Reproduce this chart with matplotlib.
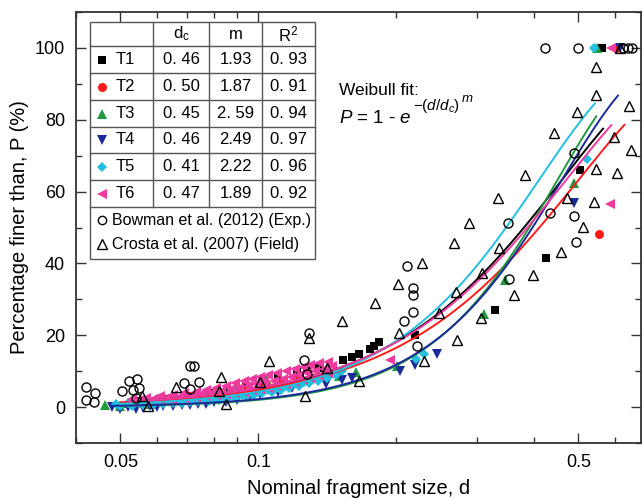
import matplotlib
matplotlib.use("Agg")
import matplotlib.pyplot as plt
import numpy as np
from matplotlib.ticker import FixedLocator, FixedFormatter, NullFormatter
from matplotlib.patches import Rectangle

plt.rcParams["font.family"] = ["Liberation Sans", "DejaVu Sans"]
plt.rcParams["mathtext.fontset"] = "custom"
plt.rcParams["mathtext.rm"] = "Liberation Sans"
plt.rcParams["mathtext.it"] = "Liberation Sans:italic"

# ---- data ----
names = ["T1", "T2", "T3", "T4", "T5", "T6"]
dc = [0.46, 0.50, 0.45, 0.46, 0.41, 0.47]
m_exp = [1.93, 1.87, 2.59, 2.49, 2.22, 1.89]
r2 = [0.93, 0.91, 0.94, 0.97, 0.96, 0.92]
dc_text = ["0. 46", "0. 50", "0. 45", "0. 46", "0. 41", "0. 47"]
m_text = ["1.93", "1.87", "2. 59", "2.49", "2.22", "1.89"]
r2_text = ["0. 93", "0. 91", "0. 94", "0. 97", "0. 96", "0. 92"]
fit_start = [0.053, 0.050, 0.050, 0.048, 0.050, 0.052]
fit_end = [0.566, 0.630, 0.547, 0.610, 0.543, 0.590]

t1_d = [0.055, 0.062, 0.070, 0.078, 0.086, 0.094, 0.102, 0.1106, 0.1216, 0.1279,
        0.1359, 0.1531, 0.1604, 0.1656, 0.1752, 0.1785, 0.1833, 0.2202, 0.3292,
        0.4255, 0.5047, 0.5628]
t1_p = [1.6, 2.2, 3.0, 3.8, 4.6, 5.6, 6.8, 8.3, 10.1, 10.7,
        11.0, 13.1, 14.0, 14.8, 16.1, 16.9, 18.1, 20.2, 26.9,
        41.6, 66.1, 100]
t2_d = [0.057, 0.064, 0.071, 0.079, 0.087, 0.095, 0.104, 0.113, 0.122, 0.5534, 0.603]
t2_p = [1.8, 2.4, 3.0, 3.7, 4.5, 5.3, 6.3, 7.4, 8.4, 48.1, 100]
t3_d = [0.0462, 0.050, 0.052, 0.056, 0.058, 0.060, 0.064, 0.068, 0.073, 0.078,
        0.084, 0.090, 0.096, 0.1039, 0.110, 0.1499, 0.1637, 0.2008, 0.3114, 0.345,
        0.488, 0.550]
t3_p = [0.6, 0.2, 1.0, 1.6, 0.8, 2.2, 2.0, 2.8, 3.0, 3.6,
        4.4, 5.0, 6.0, 7.7, 7.0, 8.6, 9.8, 11.3, 25.8, 35.4,
        62.4, 100]
t4_d = [0.048, 0.050, 0.052, 0.054, 0.056, 0.058, 0.060, 0.062, 0.065, 0.068,
        0.071, 0.074, 0.077, 0.080, 0.085, 0.090, 0.0957, 0.101, 0.1102, 0.1184,
        0.1404, 0.1525, 0.1602, 0.2035, 0.2197, 0.2456, 0.488, 0.617]
t4_p = [0.0, -0.5, 0.1, -0.4, -0.2, 0.3, -0.1, 0.4, 0.2, 0.6,
        0.5, 0.9, 0.8, 1.3, 1.3, 2.0, 3.1, 3.6, 4.25, 5.2,
        6.5, 7.6, 8.2, 10.0, 11.75, 14.8, 56.7, 100]
t5_d = [0.049, 0.052, 0.055, 0.058, 0.061, 0.064, 0.067, 0.070, 0.073, 0.076,
        0.080, 0.084, 0.088, 0.092, 0.096, 0.100, 0.105, 0.110, 0.115, 0.120,
        0.126, 0.132, 0.138, 0.145, 0.152,
        0.050, 0.053, 0.056, 0.059, 0.062, 0.065, 0.068, 0.071, 0.074, 0.078,
        0.082, 0.086, 0.090, 0.094, 0.098, 0.102, 0.107, 0.112, 0.117, 0.123,
        0.129, 0.135, 0.141, 0.148, 0.2213, 0.2296, 0.522, 0.540]
t5_p = [0.9, 1.0, 1.15, 1.3, 1.45, 1.6, 1.8, 2.0, 2.15, 2.35,
        2.6, 2.9, 3.2, 3.5, 3.9, 4.25, 4.75, 5.25, 5.8, 6.3,
        7.0, 7.7, 8.4, 9.2, 10.0,
        0.2, 0.4, 0.5, 0.7, 0.8, 1.0, 1.2, 1.4, 1.6, 1.8,
        2.1, 2.4, 2.7, 3.0, 3.4, 3.8, 4.3, 4.8, 5.3, 5.9,
        6.6, 7.3, 8.0, 8.8, 13.3, 14.9, 69.2, 100]
t6_d = [0.053, 0.057, 0.061, 0.065, 0.069, 0.073, 0.077, 0.081, 0.085, 0.089,
        0.093, 0.097, 0.101, 0.105, 0.110, 0.115, 0.120, 0.125, 0.130, 0.136, 0.142,
        0.055, 0.059, 0.063, 0.067, 0.071, 0.075, 0.079, 0.083, 0.087, 0.091,
        0.095, 0.099, 0.103, 0.108, 0.113, 0.118, 0.123, 0.128, 0.133, 0.139,
        0.053, 0.057, 0.061, 0.065, 0.069, 0.073, 0.077, 0.081, 0.085, 0.089,
        0.093, 0.097, 0.101, 0.105, 0.110, 0.115, 0.120, 0.125, 0.130, 0.136, 0.142,
        0.1449, 0.1935, 0.587, 0.590]
t6_p = [2.2, 2.6, 3.0, 3.4, 3.8, 4.3, 4.8, 5.4, 6.0, 6.6,
        7.2, 7.8, 8.4, 8.9, 9.5, 10.1, 10.7, 11.2, 11.7, 12.2, 12.6,
        1.9, 2.2, 2.5, 2.9, 3.2, 3.6, 4.0, 4.5, 5.0, 5.4,
        5.9, 6.4, 6.9, 7.3, 7.9, 8.5, 9.0, 9.6, 10.1, 10.7,
        1.4, 1.6, 1.9, 2.1, 2.4, 2.7, 3.0, 3.3, 3.6, 4.0,
        4.3, 4.7, 5.0, 5.4, 5.9, 6.4, 6.9, 7.5, 8.0, 8.7, 9.4,
        11.5, 13.1, 56.6, 100]
series_d = [t1_d, t2_d, t3_d, t4_d, t5_d, t6_d]
series_p = [t1_p, t2_p, t3_p, t4_p, t5_p, t6_p]

bowman_d = [0.0421, 0.0439, 0.0421, 0.0437, 0.0505, 0.0521, 0.0543, 0.0533, 0.0548,
            0.0540, 0.0689, 0.0709, 0.0724, 0.0711, 0.0744, 0.1292, 0.1256, 0.1277,
            0.2115, 0.2177, 0.2173, 0.2177, 0.2076, 0.2224, 0.3506, 0.3523, 0.4326,
            0.4897, 0.490, 0.494, 0.4232, 0.500, 0.627, 0.643, 0.655]
bowman_p = [5.5, 4.0, 2.1, 1.4, 4.4, 7.3, 7.7, 4.7, 5.4,
            2.4, 6.75, 11.5, 11.5, 4.9, 7.1, 20.6, 13.1, 9.2,
            39.4, 33.1, 31.1, 26.5, 23.9, 16.9, 51.3, 35.75, 54.0,
            70.7, 53.1, 46.0, 100, 100, 100, 100, 100]
crosta_d = [0.0557, 0.0574, 0.0660, 0.0830, 0.0822, 0.0849, 0.1010, 0.1053, 0.1289,
            0.1266, 0.1413, 0.1523, 0.1660, 0.1794, 0.2019, 0.2032, 0.2278, 0.2296,
            0.2476, 0.2669, 0.2710, 0.2706, 0.2888, 0.3060, 0.3078, 0.3334, 0.3356,
            0.3610, 0.3828, 0.3980, 0.4413, 0.4582, 0.4728, 0.4955, 0.5116, 0.5398,
            0.5456, 0.5467, 0.5470, 0.5969, 0.6075, 0.6171, 0.6435, 0.6504]
crosta_p = [3.2, 0.4, 5.5, 8.3, 4.6, 0.8, 7.0, 12.9, 19.1,
            3.2, 11.0, 24.0, 7.4, 29.1, 34.25, 20.6, 40.1, 12.8,
            26.2, 45.6, 18.8, 32.1, 51.3, 24.9, 37.4, 58.1, 44.2,
            31.1, 64.7, 36.9, 76.3, 43.1, 58.3, 82.2, 50.1, 57.1,
            66.3, 86.9, 94.6, 75.2, 65.3, 100, 83.9, 71.6]

x_major = [0.05, 0.1, 0.5]
x_major_labels = ["0.05", "0.1", "0.5"]
x_minor = [0.04, 0.06, 0.07, 0.08, 0.09, 0.2, 0.3, 0.4, 0.6, 0.7]

# ---- styles ----
colors = ["#000000", "#ff1a1a", "#1f9a3c", "#1c2a9c", "#22c0e0", "#ee3a9e"]
markers = ["s", "o", "^", "v", "D", "<"]
msizes = [5.5, 6.5, 7, 7, 5.5, 7]

W, H = 643, 499
fig = plt.figure(figsize=(W / 100, H / 100), dpi=100)
ax = fig.add_axes([76 / W, 1 - 443 / H, (641 - 76) / W, (443 - 12) / H])

for i in range(6):
    ax.plot(series_d[i], series_p[i], linestyle="none", marker=markers[i],
            color=colors[i], markersize=msizes[i], markeredgewidth=0, zorder=2)

for i in range(6):
    d = np.geomspace(fit_start[i], fit_end[i], 200)
    p = 100 * (1 - np.exp(-(d / dc[i]) ** m_exp[i]))
    ax.plot(d, p, color=colors[i], lw=1.4, zorder=3)

ax.plot(bowman_d, bowman_p, linestyle="none", marker="o", mfc="none", mec="black",
        markersize=6.5, mew=1.0, zorder=4)
ax.plot(crosta_d, crosta_p, linestyle="none", marker="^", mfc="none", mec="black",
        markersize=7, mew=1.0, zorder=4)

ax.set_xscale("log")
ax.set_xlim(0.04, 0.685)
ax.set_ylim(-10, 110)
ax.xaxis.set_major_locator(FixedLocator(x_major))
ax.xaxis.set_major_formatter(FixedFormatter(x_major_labels))
ax.xaxis.set_minor_locator(FixedLocator(x_minor))
ax.xaxis.set_minor_formatter(NullFormatter())
ax.yaxis.set_major_locator(FixedLocator(np.arange(0, 101, 20)))
ax.yaxis.set_minor_locator(FixedLocator(np.arange(-10, 111, 10)))
ax.tick_params(which="both", direction="in", top=True, right=True,
               labelsize=13, width=1.0, color="#333333")
ax.tick_params(which="major", length=7, pad=8)
ax.tick_params(which="minor", length=4)
for s in ax.spines.values():
    s.set_linewidth(1.3)
    s.set_color("#333333")

ax.set_xlabel("Nominal fragment size, d", fontsize=14.5, labelpad=6)
ax.set_ylabel("Percentage finer than, P (%)", fontsize=14.5, labelpad=4)

# ---- table and formula drawn in pixel space ----
ov = fig.add_axes([0, 0, 1, 1], zorder=10)
ov.set_xlim(0, W)
ov.set_ylim(H, 0)
ov.axis("off")
ov.patch.set_alpha(0)

ov.text(339, 95, "Weibull fit:", fontsize=12.5, va="baseline")
base = ov.text(339, 123, r"$\mathit{P}$ = $\mathit{1}$ - $\mathit{e}$", fontsize=13.5,
               va="baseline")
fig.canvas.draw()
inv = ov.transData.inverted()
x_exp = inv.transform((base.get_window_extent().x1, 0))[0]
expo = ov.text(x_exp + 1, 110, r"$-(\mathit{d/d}_\mathit{c})$", fontsize=11,
               va="baseline")
fig.canvas.draw()
x_m = inv.transform((expo.get_window_extent().x1, 0))[0]
ov.text(x_m + 1, 102, r"$\mathit{m}$", fontsize=9.5, va="baseline")

left, right, top, bottom = 90, 315, 22, 259
col_x = [153, 209, 262]
row_y = [46, 73, 100, 127, 153, 180, 207]
lc = "#555555"
ov.add_patch(Rectangle((left, top), right - left, bottom - top, facecolor="white",
                       edgecolor=lc, lw=1.0))
for y in row_y:
    ov.plot([left, right], [y, y], color=lc, lw=1.0)
for x in col_x:
    ov.plot([x, x], [top, row_y[-1]], color=lc, lw=1.0)

fs = 12
hy = (top + row_y[0]) / 2
ov.text(181, hy, r"d$_\mathrm{c}$", ha="center", va="center", fontsize=fs)
ov.text(235.5, hy, "m", ha="center", va="center", fontsize=fs)
ov.text(288.5, hy, r"R$^\mathrm{2}$", ha="center", va="center", fontsize=fs)
for i in range(6):
    yc = (row_y[i] + row_y[i + 1]) / 2
    ov.plot([102], [yc], marker=markers[i], color=colors[i], markersize=msizes[i],
            markeredgewidth=0, linestyle="none")
    ov.text(116, yc, names[i], va="center", fontsize=fs)
    ov.text(181, yc, dc_text[i], ha="center", va="center", fontsize=fs)
    ov.text(235.5, yc, m_text[i], ha="center", va="center", fontsize=fs)
    ov.text(288.5, yc, r2_text[i], ha="center", va="center", fontsize=fs)

ov.plot([102], [220], marker="o", mfc="none", mec="black", markersize=6, mew=1.0)
ov.text(112, 220, "Bowman et al. (2012) (Exp.)", va="center", fontsize=11.5)
ov.plot([102], [244], marker="^", mfc="none", mec="black", markersize=7, mew=1.0)
ov.text(112, 244, "Crosta et al. (2007) (Field)", va="center", fontsize=11.5)

fig.savefig("out.png", dpi=100)
